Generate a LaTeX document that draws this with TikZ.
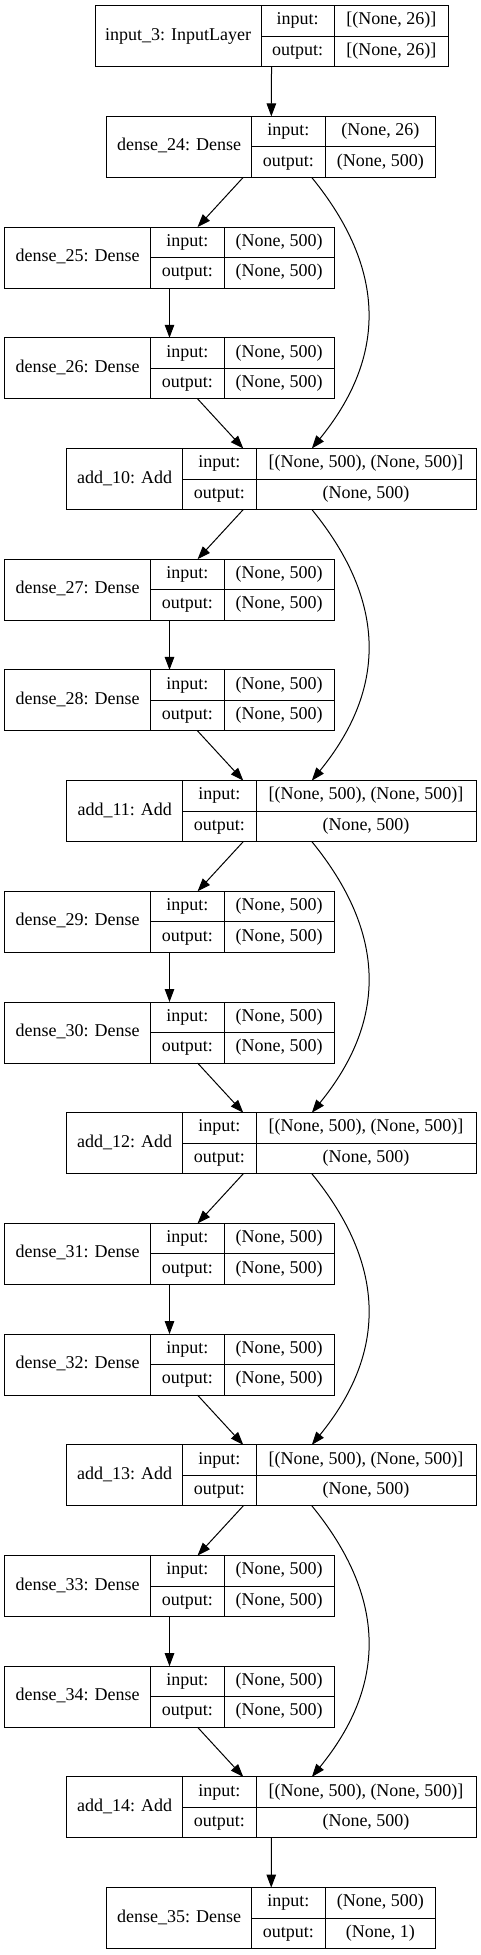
\documentclass[tikz,border=0pt]{standalone}
\usepackage{fontspec}
\setmainfont{Liberation Serif}
\usetikzlibrary{positioning,arrows.meta,calc}

\tikzset{
  recbox/.style={draw=black, line width=1pt, inner sep=0pt, outer sep=0pt, minimum height=61pt},
  recline/.style={draw=black, line width=1pt},
  rectxt/.style={inner sep=0pt, text height=12pt, text depth=4pt, font=\fontsize{18}{21}\selectfont},
  edge/.style={draw=black, line width=1pt, -{Triangle[length=13pt,width=9.5pt]}},
}

% one record: name, left, top, name width, value width, title, input, output
\newcommand{\layerrec}[8]{%
  \pgfmathsetmacro{\recxa}{#2+#4}%
  \pgfmathsetmacro{\recxb}{\recxa+73.3}%
  \pgfmathsetmacro{\recxc}{\recxb+#5}%
  \pgfmathsetmacro{\recw}{\recxc-#2}%
  \pgfmathsetmacro{\recym}{#3+30.5}%
  \node[recbox, anchor=north west, minimum width=\recw pt] (#1) at (#2,#3) {};
  \draw[recline] (\recxa,#3) -- (\recxa,#3+61) (\recxb,#3) -- (\recxb,#3+61) (\recxa,\recym) -- (\recxc,\recym);
  \node[rectxt] (#1-name) at ({(#2+\recxa)/2},\recym) {#6};
  \node[rectxt] (#1-in) at ({(\recxa+\recxb)/2},{#3+15.25}) {input:};
  \node[rectxt] (#1-out) at ({(\recxa+\recxb)/2},{#3+45.75}) {output:};
  \node[rectxt] (#1-inval) at ({(\recxb+\recxc)/2},{#3+15.25}) {#7};
  \node[rectxt] (#1-outval) at ({(\recxb+\recxc)/2},{#3+45.75}) {#8};
}

\begin{document}
\begin{tikzpicture}[x=1pt, y=-1pt]
\useasboundingbox (0,0) rectangle (481,1955);
\layerrec{in3}{95}{5.7}{166}{114}{input\_3: InputLayer}{[(None, 26)]}{[(None, 26)]}
\layerrec{d24}{106.7}{116.4}{145}{110.7}{dense\_24: Dense}{(None, 26)}{(None, 500)}
\draw[edge] (in3) -- (d24);
% residual blocks
\foreach \a/\da/\db/\prev [count=\i from 0] in {10/25/26/d24, 11/27/28/a10, 12/29/30/a11, 13/31/32/a12, 14/33/34/a13}{
  \pgfmathsetmacro{\ytop}{5.7+110.7*(2+3*\i)}
  \layerrec{d\da}{4.7}{\ytop}{146}{110.3}{dense\_\da: Dense}{(None, 500)}{(None, 500)}
  \layerrec{d\db}{4.7}{\ytop+110.7}{146}{110.3}{dense\_\db: Dense}{(None, 500)}{(None, 500)}
  \layerrec{a\a}{66.7}{\ytop+221.4}{116}{220}{add\_\a: Add}{[(None, 500), (None, 500)]}{(None, 500)}
  \draw[edge] (\prev) -- (d\da);
  \draw[edge] (d\da) -- (d\db);
  \draw[edge] (d\db) -- (a\a);
  \draw[edge] ([xshift=40.5pt]\prev.south) .. controls +(75,92) and +(75,-92) .. ([xshift=40.5pt]a\a.north);
}
\layerrec{d35}{106.7}{1887.6}{145}{110.7}{dense\_35: Dense}{(None, 500)}{(None, 1)}
\draw[edge] (a14) -- (d35);
\end{tikzpicture}
\end{document}
